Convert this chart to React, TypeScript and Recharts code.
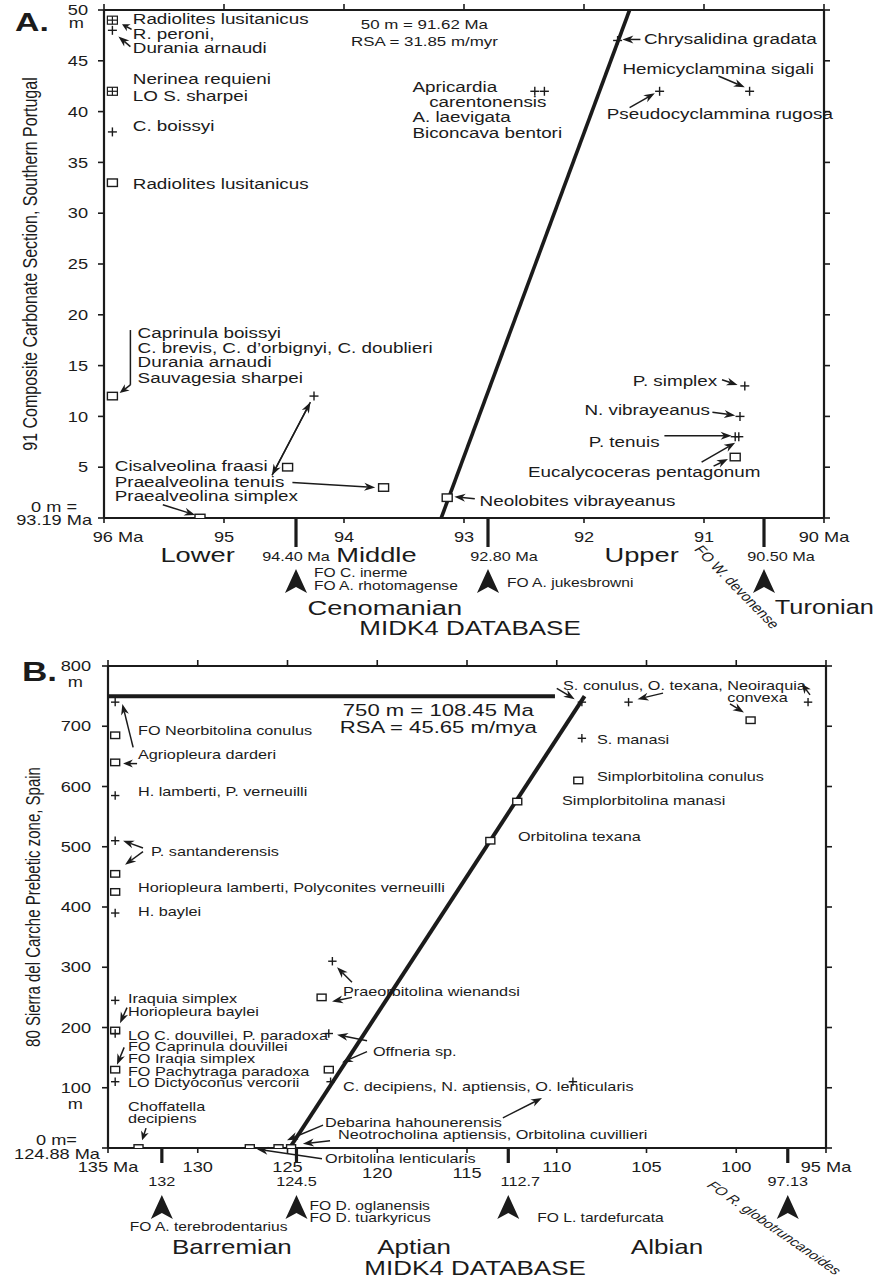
import React from "react";
import { ScatterChart, Scatter, XAxis, YAxis, ReferenceLine, ReferenceDot } from "recharts";

const FONT = "'Liberation Sans', Arial, Helvetica, sans-serif";
const INK = "#1b1b1b";
// the source figure is stretched sideways, so text is drawn wider than tall
const STRETCH = 1.3;

// ---------- A. 91 Composite Carbonate Section, Southern Portugal ----------
const xTicksA = [96, 95, 94, 93, 92, 91, 90];
const yTicksA = [0, 5, 10, 15, 20, 25, 30, 35, 40, 45, 50];

const plusA = [
  { x: 95.93, y: 48 }, { x: 95.93, y: 38 }, { x: 94.25, y: 12 },
  { x: 92.41, y: 42 }, { x: 92.33, y: 42 }, { x: 91.72, y: 47 },
  { x: 91.37, y: 42 }, { x: 90.62, y: 42 }, { x: 90.66, y: 13 },
  { x: 90.7, y: 10 }, { x: 90.74, y: 8 }, { x: 90.71, y: 8 },
];
const squareA = [
  { x: 95.93, y: 33 }, { x: 95.93, y: 12 }, { x: 95.2, y: 0 },
  { x: 94.47, y: 5 }, { x: 93.67, y: 3 }, { x: 93.14, y: 2 }, { x: 90.74, y: 6 },
];
const boxPlusA = [{ x: 95.93, y: 49 }, { x: 95.93, y: 42 }];
const lineA = [{ x: 93.19, y: 0 }, { x: 91.62, y: 50 }];
const noteA = ["50 m = 91.62 Ma", "RSA = 31.85 m/myr"];

const labelsA: [number, number, string, string?][] = [
  [95.76, 49.1, "Radiolites lusitanicus"],
  [95.76, 47.6, "R. peroni,"],
  [95.76, 46.2, "Durania arnaudi"],
  [95.76, 43.2, "Nerinea requieni"],
  [95.76, 41.5, "LO S. sharpei"],
  [95.76, 38.6, "C. boissyi"],
  [95.76, 32.8, "Radiolites lusitanicus"],
  [93.43, 42.4, "Apricardia"],
  [93.29, 40.9, "carentonensis"],
  [93.43, 39.4, "A. laevigata"],
  [93.43, 37.9, "Biconcava bentori"],
  [91.5, 47.1, "Chrysalidina gradata"],
  [91.68, 44.2, "Hemicyclammina sigali"],
  [91.81, 39.7, "Pseudocyclammina rugosa"],
  [95.72, 18.2, "Caprinula boissyi"],
  [95.72, 16.7, "C. brevis, C. d\u2019orbignyi, C. doublieri"],
  [95.72, 15.3, "Durania arnaudi"],
  [95.72, 13.8, "Sauvagesia sharpei"],
  [95.91, 5.1, "Cisalveolina fraasi"],
  [95.91, 3.5, "Praealveolina tenuis"],
  [95.91, 2.1, "Praealveolina simplex"],
  [92.87, 1.6, "Neolobites vibrayeanus"],
  [90.89, 13.5, "P. simplex", "end"],
  [90.95, 10.6, "N. vibrayeanus", "end"],
  [91.37, 7.5, "P. tenuis", "end"],
  [90.53, 4.5, "Eucalycoceras pentagonum", "end"],
];

const arrowsA: [number, number, number, number][] = [
  [95.77, 48.1, 95.85, 48.6],
  [95.78, 46.4, 95.88, 47.4],
  [91.53, 47.1, 91.68, 47.1],
  [90.88, 43.5, 90.66, 42.4],
  [91.62, 40.4, 91.41, 41.8],
  [95.78, 13.1, 95.87, 12.3],
  [94.6, 4.2, 94.28, 11.4],
  [94.28, 11.4, 94.6, 4.2],
  [94.43, 3.5, 93.74, 3.0],
  [95.51, 1.3, 95.24, 0.3],
  [92.91, 1.9, 93.08, 2.1],
  [90.85, 13.6, 90.72, 13.1],
  [90.93, 10.4, 90.74, 10.1],
  [91.33, 8.1, 90.77, 8.1],
  [91.02, 5.5, 90.74, 7.4],
  [90.92, 5.1, 90.8, 5.8],
];
const leadersA: [number, number, number, number][] = [[95.78, 18.5, 95.78, 13.1]];

const boundsA = [94.4, 92.8, 90.5];
const boundLabelsA = ["94.40 Ma", "92.80 Ma", "90.50 Ma"];
const subStagesA: [string, number][] = [["Lower", 95.22], ["Middle", 93.73], ["Upper", 91.52]];

// ---------- B. 80 Sierra del Carche Prebetic zone, Spain ----------
const xTicksB = [135, 130, 125, 120, 115, 110, 105, 100, 95];
const yTicksB = [0, 100, 200, 300, 400, 500, 600, 700, 800];

const plusB = [
  { x: 134.6, y: 740 }, { x: 134.6, y: 585 }, { x: 134.6, y: 510 }, { x: 134.6, y: 390 },
  { x: 134.6, y: 245 }, { x: 134.6, y: 190 }, { x: 134.6, y: 110 },
  { x: 122.5, y: 310 }, { x: 122.7, y: 190 }, { x: 122.6, y: 110 },
  { x: 108.6, y: 740 }, { x: 106.0, y: 740 }, { x: 96.0, y: 740 }, { x: 108.6, y: 680 },
  { x: 109.1, y: 110 },
];
const squareB = [
  { x: 134.6, y: 685 }, { x: 134.6, y: 640 }, { x: 134.6, y: 455 }, { x: 134.6, y: 425 },
  { x: 134.6, y: 195 }, { x: 134.6, y: 130 }, { x: 133.3, y: 0 }, { x: 127.1, y: 0 },
  { x: 125.5, y: 0 }, { x: 124.8, y: 0 }, { x: 123.1, y: 250 }, { x: 122.7, y: 130 },
  { x: 99.2, y: 710 }, { x: 108.8, y: 610 }, { x: 112.2, y: 575 }, { x: 113.7, y: 510 },
];
const lineB = [{ x: 124.88, y: 0 }, { x: 108.45, y: 750 }];
const datumB = [{ x: 135, y: 750 }, { x: 110.1, y: 750 }];
const noteB = ["750 m = 108.45 Ma", "RSA = 45.65 m/mya"];

const labelsB: [number, number, string][] = [
  [133.33, 692, "FO Neorbitolina conulus"],
  [133.33, 652, "Agriopleura darderi"],
  [133.33, 592, "H. lamberti, P. verneuilli"],
  [132.6, 492, "P. santanderensis"],
  [133.33, 432, "Horiopleura lamberti, Polyconites verneuilli"],
  [133.33, 392, "H. baylei"],
  [109.65, 768, "S. conulus, O. texana, Neoiraquia"],
  [100.5, 748, "convexa"],
  [107.76, 677, "S. manasi"],
  [107.76, 617, "Simplorbitolina conulus"],
  [109.71, 577, "Simplorbitolina manasi"],
  [112.16, 517, "Orbitolina texana"],
  [133.89, 248, "Iraquia simplex"],
  [133.89, 227, "Horiopleura baylei"],
  [133.89, 187, "LO C. douvillei, P. paradoxa"],
  [133.89, 168, "FO Caprinula douvillei"],
  [133.89, 148, "FO Iraqia simplex"],
  [133.89, 127, "FO Pachytraga paradoxa"],
  [133.89, 108, "LO Dictyoconus vercorii"],
  [133.89, 68, "Choffatella"],
  [133.89, 48, "decipiens"],
  [121.91, 260, "Praeorbitolina wienandsi"],
  [120.24, 160, "Offneria sp."],
  [121.91, 102, "C. decipiens, N. aptiensis, O. lenticularis"],
  [122.91, 42, "Debarina hahounerensis"],
  [122.19, 22, "Neotrocholina aptiensis, Orbitolina cuvillieri"],
  [122.91, -18, "Orbitolina lenticularis"],
];

const arrowsB: [number, number, number, number][] = [
  [133.6, 665, 134.2, 737],
  [133.38, 638, 134.16, 638],
  [133.05, 498, 134.16, 510],
  [133.05, 492, 134.05, 470],
  [110.0, 763, 109.0, 745],
  [104.08, 755, 105.5, 745],
  [100.35, 737, 99.57, 723],
  [95.89, 752, 96.34, 770],
  [133.94, 233, 134.33, 207],
  [134.1, 167, 134.5, 138],
  [132.88, 33, 133.1, 13],
  [121.41, 275, 122.24, 300],
  [121.41, 250, 122.52, 243],
  [120.57, 178, 122.24, 188],
  [120.57, 160, 121.96, 142],
  [123.02, 38, 125.03, 13],
  [122.63, 12, 124.14, 7],
  [123.08, -18, 126.7, -2],
  [113.0, 50, 110.82, 83],
];

const boundsB = [132, 124.5, 112.7, 97.13];
const boundLabelsB = ["132", "124.5", "112.7", "97.13"];
const stagesB: [string, number][] = [["Barremian", 128.1], ["Aptian", 117.95], ["Albian", 103.86]];

// ---------- drawing helpers ----------
function Txt(props: any) {
  const { x, y, children, size = 14, anchor = "start", weight, italic, angle = 0 } = props;
  const tf = `translate(${x},${y}) scale(${STRETCH},1)` + (angle ? ` rotate(${angle})` : "");
  return (
    <text
      transform={tf}
      fontSize={size}
      fontFamily={FONT}
      fontWeight={weight}
      fontStyle={italic ? "italic" : undefined}
      textAnchor={anchor}
      dominantBaseline="central"
      fill={INK}
    >
      {children}
    </text>
  );
}

function Plus({ cx, cy, s = 4.5 }: any) {
  return (
    <g stroke={INK} strokeWidth={1.4}>
      <line x1={cx - s} y1={cy} x2={cx + s} y2={cy} />
      <line x1={cx} y1={cy - s} x2={cx} y2={cy + s} />
    </g>
  );
}

function Box({ cx, cy, w = 10, h = 7.5 }: any) {
  return <rect x={cx - w / 2} y={cy - h / 2} width={w} height={h} fill="#fff" stroke={INK} strokeWidth={1.4} />;
}

function BoxPlus({ cx, cy }: any) {
  return (
    <g stroke={INK} strokeWidth={1.2}>
      <rect x={cx - 5} y={cy - 4} width={10} height={8} fill="#fff" />
      <line x1={cx - 5} y1={cy} x2={cx + 5} y2={cy} />
      <line x1={cx} y1={cy - 4} x2={cx} y2={cy + 4} />
    </g>
  );
}

function Arrow({ x1, y1, x2, y2 }: any) {
  const dx = x2 - x1;
  const dy = y2 - y1;
  const len = Math.hypot(dx, dy) || 1;
  const ux = dx / len;
  const uy = dy / len;
  const L = Math.min(11, len * 0.7);
  const W = 4;
  const bx = x2 - ux * L;
  const by = y2 - uy * L;
  const nx = x2 - ux * L * 0.7;
  const ny = y2 - uy * L * 0.7;
  const pts = `${x2},${y2} ${bx - uy * W},${by + ux * W} ${nx},${ny} ${bx + uy * W},${by - ux * W}`;
  return (
    <g>
      <line x1={x1} y1={y1} x2={nx} y2={ny} stroke={INK} strokeWidth={1.5} />
      <polygon points={pts} fill={INK} />
    </g>
  );
}

function Pointer({ cx, cy }: any) {
  // large arrowhead under the time axis
  return <polygon points={`${cx},${cy} ${cx - 11},${cy + 24} ${cx},${cy + 18} ${cx + 11},${cy + 24}`} fill={INK} />;
}

const dot = (key: string, x: number, y: number, render: (cx: number, cy: number) => any) => (
  <ReferenceDot key={key} x={x} y={y} r={1} ifOverflow="visible" shape={(p: any) => render(p.cx, p.cy)} />
);

const axisStyle = { stroke: INK, strokeWidth: 2.2 };
const tickStyle = { stroke: INK, strokeWidth: 1.6 };
const noTick = () => <g />;

// ---------- tick renderers ----------
function XTickA({ x, y, payload }: any) {
  const v = payload.value;
  const label = v === 96 || v === 90 ? `${v} Ma` : String(v);
  return <Txt x={v === 96 ? x + 14 : x} y={y + 12} anchor="middle">{label}</Txt>;
}

function YTickA({ x, y, payload }: any) {
  const v = payload.value;
  if (v === 0) {
    return (
      <g>
        <Txt x={x - 19} y={y - 11} anchor="end">0 m =</Txt>
        <Txt x={x - 4} y={y + 2} anchor="end">93.19 Ma</Txt>
      </g>
    );
  }
  return (
    <g>
      <Txt x={x - 8} y={y} anchor="end">{v}</Txt>
      {v === 50 && <Txt x={x - 12} y={y + 13} anchor="end">m</Txt>}
    </g>
  );
}

function XTickB({ x, y, payload }: any) {
  const v = payload.value;
  const label = v === 135 || v === 95 ? `${v} Ma` : String(v);
  const low = v === 120 || v === 115 ? 6 : 0;
  return <Txt x={x} y={y + 12 + low} anchor="middle">{label}</Txt>;
}

function YTickB({ x, y, payload }: any) {
  const v = payload.value;
  if (v === 0) {
    return (
      <g>
        <Txt x={x - 23} y={y - 8} anchor="end">0 m=</Txt>
        <Txt x={x} y={y + 6} anchor="end">124.88 Ma</Txt>
      </g>
    );
  }
  return (
    <g>
      <Txt x={x - 9} y={y} anchor="end">{v}</Txt>
      {(v === 800 || v === 100) && <Txt x={x - 17} y={y + 16} anchor="end">m</Txt>}
    </g>
  );
}

// ---------- panels ----------
function ChartA() {
  return (
    <ScatterChart width={881} height={650} margin={{ top: 0, right: 0, bottom: 0, left: 0 }}>
      <XAxis dataKey="x" type="number" domain={[90, 96]} reversed ticks={xTicksA} interval={0} height={132}
        tickSize={5} axisLine={axisStyle} tickLine={tickStyle} tick={(p: any) => <XTickA x={p.x} y={p.y} payload={p.payload} />} allowDataOverflow />
      <XAxis xAxisId="t" orientation="top" dataKey="x" type="number" domain={[90, 96]} reversed ticks={xTicksA} interval={0}
        height={10} tickSize={6} axisLine={axisStyle} tickLine={tickStyle} tick={noTick} allowDataOverflow />
      <YAxis dataKey="y" type="number" domain={[0, 50]} ticks={yTicksA} interval={0} width={104} tickSize={6}
        axisLine={axisStyle} tickLine={tickStyle} tick={(p: any) => <YTickA x={p.x} y={p.y} payload={p.payload} />} allowDataOverflow />
      <YAxis yAxisId="r" orientation="right" type="number" domain={[0, 50]} ticks={yTicksA} interval={0} width={57}
        tickSize={6} axisLine={axisStyle} tickLine={tickStyle} tick={noTick} allowDataOverflow />

      <ReferenceLine segment={lineA} stroke={INK} strokeWidth={3.6} ifOverflow="visible" />
      {leadersA.map((s, i) => (
        <ReferenceLine key={`la${i}`} segment={[{ x: s[0], y: s[1] }, { x: s[2], y: s[3] }]} stroke={INK} strokeWidth={1.5} ifOverflow="visible" />
      ))}
      {arrowsA.map((s, i) => (
        <ReferenceLine key={`aa${i}`} segment={[{ x: s[0], y: s[1] }, { x: s[2], y: s[3] }]} ifOverflow="visible"
          shape={(p: any) => <Arrow x1={p.x1} y1={p.y1} x2={p.x2} y2={p.y2} />} />
      ))}
      {labelsA.map((l, i) => dot(`ta${i}`, l[0], l[1], (cx, cy) => (
        <Txt x={cx} y={cy} size={14.5} anchor={l[3] || "start"}>{l[2]}</Txt>
      )))}
      {noteA.map((t, i) => dot(`na${i}`, 93.33, i === 0 ? 48.6 : 46.9, (cx, cy) => (
        <Txt x={cx} y={cy} size={13} anchor="middle">{t}</Txt>
      )))}

      {dot("titleA", 96, 25, (cx, cy) => (
        <Txt x={cx - 74} y={cy} size={16} anchor="middle" angle={-90}>91 Composite Carbonate Section, Southern Portugal</Txt>
      ))}
      {dot("letterA", 96, 50, (cx, cy) => (
        <Txt x={cx - 89} y={cy + 12} size={26} weight="bold">A.</Txt>
      ))}

      {boundsA.map((b, i) => dot(`ba${i}`, b, 0, (cx, cy) => (
        <g>
          <rect x={cx - 1.6} y={cy} width={3.2} height={29} fill={INK} />
          <Txt x={cx + [0, 16, 17][i]} y={cy + 39} size={12.5} anchor="middle">{boundLabelsA[i]}</Txt>
          <Pointer cx={cx} cy={cy + 51} />
        </g>
      )))}
      {dot("foA1", 94.4, 0, (cx, cy) => (
        <g>
          <Txt x={cx + 18} y={cy + 55} size={12}>FO C. inerme</Txt>
          <Txt x={cx + 18} y={cy + 68} size={12}>FO A. rhotomagense</Txt>
        </g>
      ))}
      {dot("foA2", 92.8, 0, (cx, cy) => <Txt x={cx + 19} y={cy + 65} size={12}>FO A. jukesbrowni</Txt>)}
      {dot("foA3", 91.05, 0, (cx, cy) => <Txt x={cx} y={cy + 29} size={12.5} angle={53}>FO W. devonense</Txt>)}
      {subStagesA.map((s, i) => dot(`sa${i}`, s[1], 0, (cx, cy) => (
        <Txt x={cx} y={cy + 37} size={21} anchor="middle">{s[0]}</Txt>
      )))}
      {dot("stA1", 93.66, 0, (cx, cy) => <Txt x={cx} y={cy + 90} size={21} anchor="middle">Cenomanian</Txt>)}
      {dot("stA2", 90.41, 0, (cx, cy) => <Txt x={cx} y={cy + 90} size={19.5}>Turonian</Txt>)}
      {dot("dbA", 92.95, 0, (cx, cy) => <Txt x={cx} y={cy + 110} size={20} anchor="middle">MIDK4 DATABASE</Txt>)}

      <Scatter data={squareA} isAnimationActive={false} shape={(p: any) => <Box cx={p.cx} cy={p.cy} />} />
      <Scatter data={boxPlusA} isAnimationActive={false} shape={(p: any) => <BoxPlus cx={p.cx} cy={p.cy} />} />
      <Scatter data={plusA} isAnimationActive={false} shape={(p: any) => <Plus cx={p.cx} cy={p.cy} />} />
    </ScatterChart>
  );
}

function ChartB() {
  return (
    <ScatterChart width={881} height={638} margin={{ top: 0, right: 0, bottom: 0, left: 0 }}>
      <XAxis dataKey="x" type="number" domain={[95, 135]} reversed ticks={xTicksB} interval={0} height={130}
        tickSize={5} axisLine={axisStyle} tickLine={tickStyle} tick={(p: any) => <XTickB x={p.x} y={p.y} payload={p.payload} />} allowDataOverflow />
      <XAxis xAxisId="t" orientation="top" dataKey="x" type="number" domain={[95, 135]} reversed ticks={xTicksB} interval={0}
        height={26} tickSize={6} axisLine={axisStyle} tickLine={tickStyle} tick={noTick} allowDataOverflow />
      <YAxis dataKey="y" type="number" domain={[0, 800]} ticks={yTicksB} interval={0} width={108} tickSize={6}
        axisLine={axisStyle} tickLine={tickStyle} tick={(p: any) => <YTickB x={p.x} y={p.y} payload={p.payload} />} allowDataOverflow />
      <YAxis yAxisId="r" orientation="right" type="number" domain={[0, 800]} ticks={yTicksB} interval={0} width={55}
        tickSize={6} axisLine={axisStyle} tickLine={tickStyle} tick={noTick} allowDataOverflow />

      <ReferenceLine segment={datumB} stroke={INK} strokeWidth={4} ifOverflow="visible" />
      <ReferenceLine segment={lineB} stroke={INK} strokeWidth={4} ifOverflow="visible" />
      {arrowsB.map((s, i) => (
        <ReferenceLine key={`ab${i}`} segment={[{ x: s[0], y: s[1] }, { x: s[2], y: s[3] }]} ifOverflow="visible"
          shape={(p: any) => <Arrow x1={p.x1} y1={p.y1} x2={p.x2} y2={p.y2} />} />
      ))}
      {labelsB.map((l, i) => dot(`tb${i}`, l[0], l[1], (cx, cy) => (
        <Txt x={cx} y={cy} size={12.5}>{l[2]}</Txt>
      )))}
      {noteB.map((t, i) => dot(`nb${i}`, 116.6, i === 0 ? 727 : 698, (cx, cy) => (
        <Txt x={cx} y={cy} size={17} anchor="middle">{t}</Txt>
      )))}

      {dot("titleB", 135, 400, (cx, cy) => (
        <Txt x={cx - 75} y={cy} size={15} anchor="middle" angle={-90}>80 Sierra del Carche Prebetic zone, Spain</Txt>
      ))}
      {dot("letterB", 135, 800, (cx, cy) => (
        <Txt x={cx - 86} y={cy + 6} size={27} weight="bold">B.</Txt>
      ))}

      {boundsB.map((b, i) => dot(`bb${i}`, b, 0, (cx, cy) => (
        <g>
          <rect x={cx - 1.6} y={cy} width={3.2} height={15} fill={INK} />
          <Txt x={cx + [0, 0, 12, 0][i]} y={cy + 34} size={12.5} anchor="middle">{boundLabelsB[i]}</Txt>
          <Pointer cx={cx} cy={cy + 47} />
        </g>
      )))}
      {dot("foB1", 132, 0, (cx, cy) => <Txt x={cx - 32} y={cy + 79} size={12}>FO A. terebrodentarius</Txt>)}
      {dot("foB2", 124.5, 0, (cx, cy) => (
        <g>
          <Txt x={cx + 13} y={cy + 58} size={12}>FO D. oglanensis</Txt>
          <Txt x={cx + 13} y={cy + 70} size={12}>FO D. tuarkyricus</Txt>
        </g>
      ))}
      {dot("foB3", 112.7, 0, (cx, cy) => <Txt x={cx + 29} y={cy + 70} size={12}>FO L. tardefurcata</Txt>)}
      {dot("foB4", 101.46, 0, (cx, cy) => <Txt x={cx} y={cy + 35} size={12} italic angle={42}>FO R. globotruncanoides</Txt>)}
      {stagesB.map((s, i) => dot(`sb${i}`, s[1], 0, (cx, cy) => (
        <Txt x={cx} y={cy + 99} size={20} anchor="middle">{s[0]}</Txt>
      )))}
      {dot("dbB", 114.55, 0, (cx, cy) => <Txt x={cx} y={cy + 120} size={20} anchor="middle">MIDK4 DATABASE</Txt>)}

      <Scatter data={squareB} isAnimationActive={false} shape={(p: any) => <Box cx={p.cx} cy={p.cy} w={9} h={6.5} />} />
      <Scatter data={plusB} isAnimationActive={false} shape={(p: any) => <Plus cx={p.cx} cy={p.cy} s={4.2} />} />
    </ScatterChart>
  );
}

export default function App() {
  return (
    <div style={{ position: "absolute", left: 0, top: 0, width: 881, height: 1278, background: "#fff" }}>
      <div style={{ position: "absolute", left: 0, top: 0 }}>
        <ChartA />
      </div>
      <div style={{ position: "absolute", left: 0, top: 640 }}>
        <ChartB />
      </div>
    </div>
  );
}
